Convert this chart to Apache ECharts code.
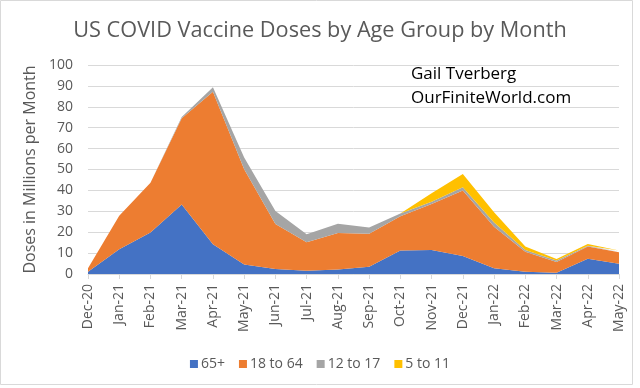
<!DOCTYPE html>
<html>
<head>
<meta charset="utf-8">
<script src="https://cdn.jsdelivr.net/npm/echarts@6/dist/echarts.min.js"></script>
<style>
html,body{margin:0;padding:0;background:#fff;}
#c{width:640px;height:388px;}
</style>
</head>
<body>
<div id="c"></div>
<script>
const categories = ['Dec-20','Jan-21','Feb-21','Mar-21','Apr-21','May-21','Jun-21','Jul-21','Aug-21','Sep-21','Oct-21','Nov-21','Dec-21','Jan-22','Feb-22','Mar-22','Apr-22','May-22'];
const age65plus = [1.1, 11.8, 19.8, 33.2, 14.2, 4.6, 2.4, 1.6, 2.2, 3.5, 11.3, 11.5, 8.6, 2.7, 1.1, 0.6, 7.3, 4.9];
const age18to64 = [1.6, 16.1, 23.9, 41.3, 73.0, 45.5, 21.5, 13.6, 17.4, 15.8, 16.3, 22.0, 31.3, 19.9, 9.6, 5.1, 5.8, 5.5];
const age12to17 = [0.1, 0, 0, 0.6, 2.1, 5.7, 6.2, 3.8, 4.5, 2.9, 1.3, 1.1, 1.6, 2.1, 0.8, 0.7, 0.4, 0.3];
const age5to11 = [0, 0, 0, 0, 0, 0, 0, 0, 0, 0, 0, 4.0, 6.3, 4.8, 1.6, 0.8, 0.9, 0.5];
const yTicks = [0, 10, 20, 30, 40, 50, 60, 70, 80, 90, 100];

const FONT = 'Open Sans';
const chart = echarts.init(document.getElementById('c'), null, {renderer: 'canvas'});
function mk(name, data, color) {
  return {
    name: name, type: 'line', stack: 'total', data: data,
    symbol: 'none', showSymbol: false,
    lineStyle: {width: 0}, areaStyle: {color: color, opacity: 1},
    itemStyle: {color: color}, emphasis: {disabled: true}
  };
}
chart.setOption({
  animation: false,
  textStyle: {fontFamily: FONT},
  title: {
    text: 'US COVID Vaccine Doses by Age Group by Month',
    left: 'center', top: 15,
    textStyle: {fontFamily: FONT, fontSize: 21.7, fontWeight: 'normal', color: '#595959'}
  },
  graphic: [
    {type: 'rect', shape: {x: 0.5, y: 0.5, width: 632, height: 384}, style: {fill: null, stroke: '#d9d9d9', lineWidth: 1}, silent: true},
    {type: 'text', left: 411, top: 66, style: {text: 'Gail Tverberg', font: '17px "Open Sans"', fill: '#000'}},
    {type: 'text', left: 411, top: 90, style: {text: 'OurFiniteWorld.com', font: '17px "Open Sans"', fill: '#000'}}
  ],
  legend: {
    top: 352, left: 'center',
    icon: 'rect', itemWidth: 8, itemHeight: 8, itemGap: 14,
    textStyle: {fontFamily: FONT, fontSize: 14, color: '#595959', padding: [0,0,0,-2]},
    data: ['65+', '18 to 64', '12 to 17', '5 to 11']
  },
  grid: {left: 88, right: 21, top: 65, bottom: 114, containLabel: false},
  xAxis: {
    type: 'category', data: categories, boundaryGap: false,
    axisLine: {lineStyle: {color: '#d9d9d9', width: 1}},
    axisTick: {show: true, alignWithLabel: true, length: 5, lineStyle: {color: '#d9d9d9'}},
    axisLabel: {rotate: 90, interval: 0, fontFamily: FONT, fontSize: 14, color: '#595959', margin: 10},
    splitLine: {show: false}
  },
  yAxis: {
    type: 'value', min: 0, max: 100, interval: 10,
    name: 'Doses in Millions per Month', nameLocation: 'middle', nameGap: 44, nameRotate: 90,
    nameTextStyle: {fontFamily: FONT, fontSize: 16, color: '#595959'},
    axisLine: {show: false}, axisTick: {show: false},
    axisLabel: {fontFamily: FONT, fontSize: 14, color: '#595959', margin: 15,
      formatter: v => yTicks.includes(v) ? String(v) : ''},
    splitLine: {lineStyle: {color: '#d9d9d9', width: 1}}
  },
  series: [
    mk('65+', age65plus, '#4472C4'),
    mk('18 to 64', age18to64, '#ED7D31'),
    mk('12 to 17', age12to17, '#A5A5A5'),
    mk('5 to 11', age5to11, '#FFC000')
  ]
});
</script>
</body>
</html>
